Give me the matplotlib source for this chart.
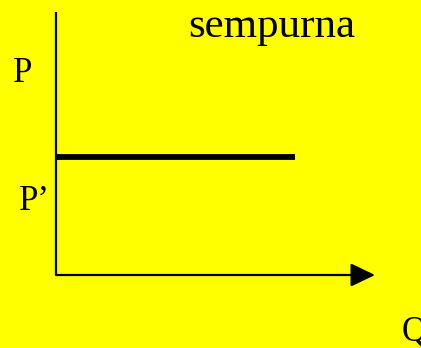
import matplotlib
matplotlib.use("Agg")
import matplotlib.pyplot as plt

# data (axis units 0..10)
q_line = [0, 7.5]
p_line = [4.5, 4.5]
axis_max_q = 10
axis_max_p = 10
labels = {"P": "P", "P2": "P\u2019", "title": "sempurna", "Q": "Q"}

W, H = 421, 348
fig = plt.figure(figsize=(W / 100, H / 100), dpi=100)
fig.patch.set_facecolor("#FFFF00")
ax = fig.add_axes([56 / W, (H - 275) / H, (375 - 56) / W, (275 - 12) / H])
ax.set_facecolor("none")
ax.set_xlim(0, axis_max_q)
ax.set_ylim(0, axis_max_p)
for s in ax.spines.values():
    s.set_visible(False)
ax.set_xticks([])
ax.set_yticks([])

# vertical axis
ax.plot([0, 0], [0, axis_max_p], color="black", lw=1.6, solid_capstyle="butt", clip_on=False)
# horizontal axis with arrow
ax.annotate("", xy=(axis_max_q, 0), xytext=(0, 0),
            arrowprops=dict(arrowstyle="-|>,head_length=0.75,head_width=0.36",
                            mutation_scale=20, lw=1.6, color="black",
                            shrinkA=0, shrinkB=0), annotation_clip=False)
# price line
ax.plot(q_line, p_line, color="black", lw=4.2, solid_capstyle="butt", clip_on=False)

font = "Liberation Serif"
def ftext(x, y, s, size):
    fig.text(x / W, 1 - y / H, s, fontsize=size, family=font, ha="left", va="baseline")

ftext(13, 82, labels["P"], 25)
ftext(19, 210, labels["P2"], 25)
ftext(188, 37, labels["title"], 31)
ftext(402, 340, labels["Q"], 25)

fig.savefig("out.png", dpi=100, facecolor=fig.get_facecolor())
